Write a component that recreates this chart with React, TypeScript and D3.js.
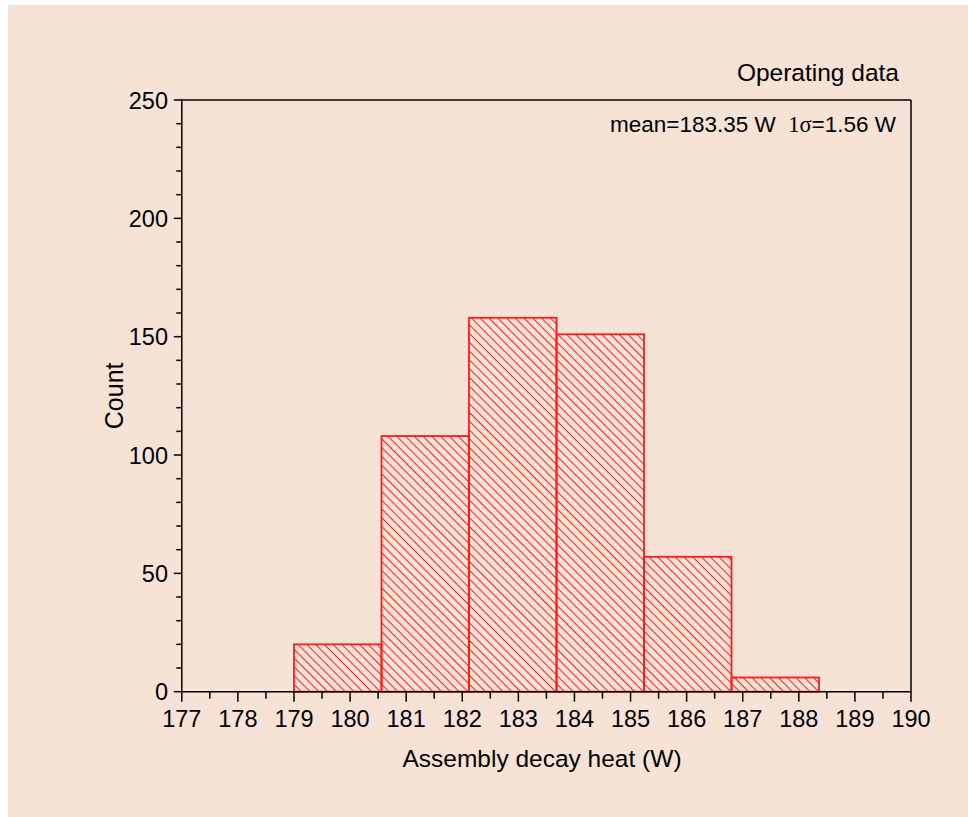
import React from "react";
import * as d3 from "d3";

// Histogram of assembly decay heat (bin width = 1.56 W)
const binEdges = [179, 180.56, 182.12, 183.68, 185.24, 186.8, 188.36];
const binCounts = [20, 108, 158, 151, 57, 6];

const xMajorTicks = [177, 178, 179, 180, 181, 182, 183, 184, 185, 186, 187, 188, 189, 190];
const yMajorTicks = [0, 50, 100, 150, 200, 250];

const seriesLabel = "Operating data";
const statsMean = "mean=183.35 W  ";
const statsSigmaSymbol = "1σ";
const statsSigmaValue = "=1.56 W";
const xTitle = "Assembly decay heat (W)";
const yTitle = "Count";

const W = 968;
const H = 817;
const BG = "#f6e3d6";
const RED = "#ff1a1a";
const SANS = "'Liberation Sans', Arial, Helvetica, sans-serif";
const SERIF = "'Liberation Serif', 'Times New Roman', serif";

export default function App() {
  const x = d3.scaleLinear().domain([177, 190]).range([181.8, 911]);
  const y = d3.scaleLinear().domain([0, 250]).range([691.7, 100]);

  const xMinor = d3.range(177.5, 190, 1);
  const yMinor = d3.range(0, 250, 10).filter((v) => v % 50 !== 0);

  const bars = binCounts.map((c, i) => ({
    x0: binEdges[i],
    x1: binEdges[i + 1],
    count: c,
  }));

  const [x0, x1] = x.range();
  const [yb, yt] = y.range();

  return (
    <svg
      width={W}
      height={H}
      style={{ position: "absolute", left: 0, top: 0, display: "block" }}
    >
      <defs>
        <pattern
          id="hatch"
          patternUnits="userSpaceOnUse"
          width={6.2}
          height={10}
          patternTransform="rotate(-45)"
        >
          <line x1={3} y1={0} x2={3} y2={10} stroke={RED} strokeWidth={1} />
        </pattern>
      </defs>
      <rect x={0} y={0} width={W} height={H} fill="#ffffff" />
      <rect x={8} y={5} width={W - 8} height={H - 5} fill={BG} />

      {/* histogram bars */}
      {bars.map((b, i) => (
        <rect
          key={i}
          x={x(b.x0)}
          y={y(b.count)}
          width={x(b.x1) - x(b.x0)}
          height={y(0) - y(b.count)}
          fill="url(#hatch)"
          stroke={RED}
          strokeWidth={1.8}
        />
      ))}

      {/* frame */}
      <g stroke="#000" strokeWidth={1.5} fill="none">
        <line x1={x0} y1={yt} x2={x1} y2={yt} />
        <line x1={x1} y1={yt} x2={x1} y2={yb} />
        <line x1={x0} y1={yb} x2={x1 + 0.75} y2={yb} />
        <line x1={x0} y1={yt - 0.75} x2={x0} y2={yb} />
      </g>

      {/* axis ticks */}
      <g stroke="#000" strokeWidth={1.5}>
        {xMajorTicks.map((t) => (
          <line key={"xm" + t} x1={x(t)} x2={x(t)} y1={yb} y2={yb + 10} />
        ))}
        {xMinor.map((t) => (
          <line key={"xn" + t} x1={x(t)} x2={x(t)} y1={yb} y2={yb + 7} />
        ))}
        {yMajorTicks.map((t) => (
          <line key={"ym" + t} x1={x0 - 8} x2={x0} y1={y(t)} y2={y(t)} />
        ))}
        {yMinor.map((t) => (
          <line key={"yn" + t} x1={x0 - 5.5} x2={x0} y1={y(t)} y2={y(t)} />
        ))}
      </g>

      <g fontFamily={SANS} fontSize={23.5} fill="#000">
        {xMajorTicks.map((t) => (
          <text key={"xl" + t} x={x(t)} y={726.7} textAnchor="middle">
            {t}
          </text>
        ))}
        {yMajorTicks.map((t) => (
          <text key={"yl" + t} x={168} y={y(t) + 8.5} textAnchor="end">
            {t}
          </text>
        ))}
      </g>

      {/* axis titles */}
      <text
        x={542}
        y={766.7}
        textAnchor="middle"
        fontFamily={SANS}
        fontSize={24.5}
        fill="#000"
      >
        {xTitle}
      </text>
      <text
        transform={`translate(123.3, ${(yt + yb) / 2}) rotate(-90)`}
        textAnchor="middle"
        fontFamily={SANS}
        fontSize={25}
        fill="#000"
      >
        {yTitle}
      </text>

      {/* annotations */}
      <text
        x={899}
        y={81}
        textAnchor="end"
        fontFamily={SANS}
        fontSize={24.5}
        fill="#000"
      >
        {seriesLabel}
      </text>
      <text
        x={896}
        y={131.7}
        textAnchor="end"
        fontFamily={SANS}
        fontSize={22.5}
        fill="#000"
        style={{ whiteSpace: "pre" }}
      >
        <tspan>{statsMean}</tspan>
        <tspan fontFamily={SERIF}>{statsSigmaSymbol}</tspan>
        <tspan>{statsSigmaValue}</tspan>
      </text>
    </svg>
  );
}
